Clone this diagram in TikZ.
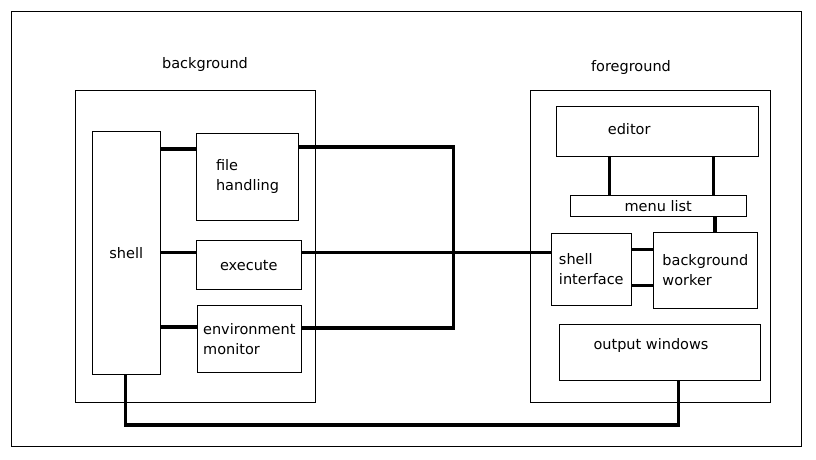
\documentclass[tikz,border=0pt]{standalone}
\usepackage{fontspec}
\setmainfont{DejaVu Sans}
\usetikzlibrary{calc}

\begin{document}
\begin{tikzpicture}[x=1pt,y=-1pt]
	\tikzstyle{every node}+=[inner sep=0pt, font=\fontsize{14.5}{20}\selectfont]
	\tikzstyle{block}=[draw=black, line width=1pt, align=left]
	\tikzstyle{wire}=[black, line width=3.5pt]
	\useasboundingbox (0,0) rectangle (816,460);
	\draw [black, line width=1pt] (11.7,11.3) rectangle (801.7,446);
	\node [block, minimum width=240.4pt, minimum height=311.6pt] (bgbox) at (195.5,246.5) {};
	\node (bglabel) at (205,64) {background};
	\node [block, minimum width=240.4pt, minimum height=311.6pt] (fgbox) at (650.5,246.5) {};
	\node (fglabel) at (631,67) {foreground};
	\node [block, minimum width=68pt, minimum height=242.7pt] (shell) at (126.3,252.7) {shell};
	\node [block, minimum width=102.4pt, minimum height=87pt] (files) at (247.5,176.8) {file\\handling};
	\node [block, minimum width=105pt, minimum height=49.3pt] (execute) at (248.8,265.3) {execute};
	\node [block, minimum width=104pt, minimum height=66.6pt] (envmon) at (249.3,339) {environment\\monitor};
	\node [block, minimum width=202.3pt, minimum height=50pt, label={[xshift=-28pt, yshift=2.3pt]center:editor}] (editor) at (657.2,131.3) {};
	\node [block, minimum width=176.3pt, minimum height=21.3pt] (menu) at (658.2,206.3) {menu list};
	\node [block, minimum width=80pt, minimum height=72pt] (shellif) at (591.3,269.3) {shell\\interface};
	\node [block, minimum width=104pt, minimum height=76pt] (worker) at (705.3,270.3) {background\\worker};
	\node [block, minimum width=201pt, minimum height=56pt, label={[xshift=-8.8pt, yshift=7.3pt]center:output windows}] (output) at (659.8,352.3) {};
	\coordinate (bus) at (453.3,240);
	\coordinate (low) at (400,425);
	\draw [wire] ($(shell.east |- files.north)+(0,16)$) -- ($(files.north west)+(0,16)$);
	\draw [wire] (shell.east) -- (shell.east -| execute.west);
	\draw [wire] ($(shell.east |- envmon.west)+(0,-12)$) -- ($(envmon.west)+(0,-12)$);
	\draw [wire] ($(files.north east)+(0,14)$) -| (bus) |- ($(envmon.east)+(0,-11)$);
	\draw [wire] ($(execute.east)+(0,-13)$) -- ($(shellif.west)+(0,-17)$);
	\draw [wire] ($(editor.south west)+(53.7,0)$) coordinate (e1) -- (e1 |- menu.north);
	\draw [wire] ($(editor.south east)+(-45.6,0)$) coordinate (e2) -- (e2 |- menu.north);
	\draw [wire] ($(menu.south east)+(-32,0)$) coordinate (m1) -- (m1 |- worker.north);
	\draw [wire] ($(shellif.east)+(0,-20)$) coordinate (s1) -- (s1 -| worker.west);
	\draw [wire] ($(shellif.east)+(0,16)$) coordinate (s2) -- (s2 -| worker.west);
	\draw [wire] ($(shell.south)+(-1,0)$) |- (low) -| ($(output.south)+(18.5,0)$);
\end{tikzpicture}
\end{document}
